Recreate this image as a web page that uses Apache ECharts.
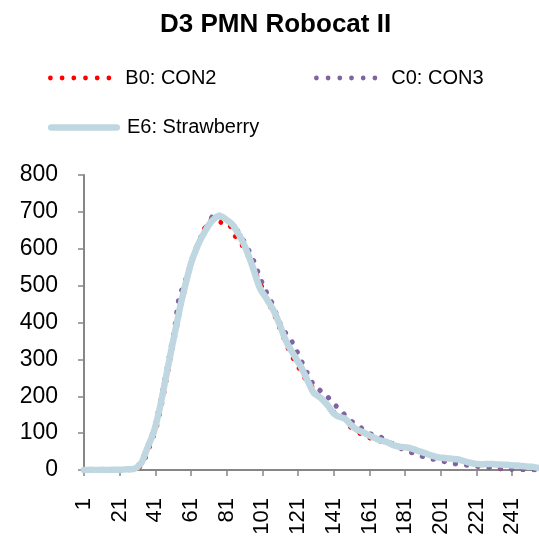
<!DOCTYPE html>
<html>
<head>
<meta charset="utf-8">
<script src="https://cdn.jsdelivr.net/npm/echarts@6/dist/echarts.min.js"></script>
<style>
html,body{margin:0;padding:0;background:#fff;}
#chart{width:539px;height:540px;}
</style>
</head>
<body>
<div id="chart"></div>
<script>
var titleText = 'D3 PMN Robocat II';
var seriesNames = ['B0: CON2', 'C0: CON3', 'E6: Strawberry'];
var categoryCount = 256;
var categories = Array.from({length: categoryCount}, function (_, i) { return String(i + 1); });
var yTicks = [0, 100, 200, 300, 400, 500, 600, 700, 800];

var b0Con2 = [
0,0,0,0,0,0,0,0,0,0,
0,0,0,0,0,0,0,0,0,0,
0,0,0,0,0,0,1,1,1,2,
3,6,11,18,28,40,53,66,79,92,
106,123,143,165,189,214,240,266,291,316,
340,364,389,413,437,459,480,500,520,538,
556,571,585,598,610,621,634,648,662,672,
676,678,680,682,683,680,675,670,669,670,
671,668,661,650,638,632,627,621,614,606,
598,590,580,569,557,545,534,526,518,505,
492,480,468,456,446,438,428,417,405,393,
381,369,357,345,334,323,313,304,296,288,
280,272,264,255,247,240,234,229,225,221,
214,206,198,191,186,182,177,171,166,161,
157,154,152,149,146,141,135,129,123,118,
113,110,107,104,101,98,95,93,91,89,
87,86,84,82,81,79,78,77,76,75,
74,73,72,72,72,71,68,63,58,54,
52,50,49,48,47,46,45,43,41,40,
38,37,36,35,33,32,31,29,28,27,
26,25,25,24,23,23,22,21,20,19,
19,18,18,17,16,15,14,13,12,11,
10,9,9,8,8,7,7,6,6,5,
5,4,4,4,3,3,3,3,2,2,
2,2,2,2,2,1,1,1,1,1,
1,1,1,1,1,1
];

var c0Con3 = [
0,0,0,0,0,0,0,0,0,0,
0,0,0,0,0,0,0,0,0,0,
0,0,0,1,1,1,1,2,3,6,
9,14,21,31,43,56,68,80,93,107,
124,144,166,189,213,238,263,288,313,338,
360,390,428,460,477,491,505,517,529,546,
565,579,592,604,616,627,637,646,655,663,
671,680,688,694,697,693,688,684,681,678,
676,674,671,668,662,656,649,641,633,625,
618,610,600,588,578,568,558,543,530,518,
505,494,484,475,466,456,447,434,420,407,
396,386,378,371,365,362,352,344,337,326,
314,305,294,283,274,264,253,244,236,230,
227,221,217,213,210,207,202,196,190,185,
180,175,170,165,161,156,150,144,139,135,
131,128,126,124,121,116,111,107,104,101,
99,97,96,95,94,93,90,87,84,81,
79,76,73,70,67,64,62,60,58,56,
55,53,51,49,47,45,43,41,40,38,
36,35,33,32,31,30,29,28,27,26,
25,24,23,22,21,20,19,18,17,16,
16,15,15,14,14,13,13,12,12,11,
11,10,10,9,9,8,8,7,7,6,
6,5,5,5,4,4,4,3,3,3,
3,2,2,2,2,2,1,1,1,1,
1,1,1,1,1,1
];

var e6Strawberry = [
0,0,0,0,1,0,0,1,0,0,
1,0,0,1,0,1,1,0,1,1,
1,1,1,1,2,2,2,3,3,5,
8,12,18,27,40,53,65,77,89,101,
118,137,158,180,204,229,253,278,302,327,
350,374,398,421,446,466,486,506,525,543,
561,575,588,600,612,622,631,640,649,657,
665,671,677,682,686,689,690,688,685,682,
678,675,671,667,661,653,644,637,628,618,
608,597,584,571,558,544,529,514,500,489,
481,474,467,459,451,443,435,425,414,402,
390,377,364,352,342,333,325,317,309,301,
293,285,276,266,256,245,235,225,215,208,
204,201,198,194,189,184,179,173,166,159,
153,149,146,144,143,142,140,137,131,125,
120,116,112,109,107,105,103,101,99,96,
93,91,89,87,85,82,80,79,78,77,
75,73,70,68,66,65,64,63,62,62,
61,61,60,59,58,56,54,52,51,49,
47,46,44,42,40,39,37,36,35,34,
33,33,32,32,31,31,30,30,29,29,
28,27,25,24,23,21,20,19,18,17,
16,16,15,15,15,16,16,16,16,16,
16,15,15,15,14,14,14,14,13,13,
12,12,12,12,11,11,10,10,10,9,
9,9,8,7,6,5
];

var colors = ['#FF0000', '#8064A2', '#BED7E0'];
var font = 'Liberation Sans, Arial, Helvetica, sans-serif';
var axisGray = '#868686';

function dotsPath(n, r, step) {
  var p = 'path://';
  for (var k = 0; k < n; k++) {
    var cx = r + k * step;
    p += 'M' + (cx - r) + ',' + r + ' a' + r + ',' + r + ' 0 1,0 ' + (2 * r) + ',0 a' + r + ',' + r + ' 0 1,0 ' + (-2 * r) + ',0 ';
  }
  return p;
}
var dotIcon = dotsPath(6, 2.4, 11.7);
var capsuleIcon = 'path://M3.2,0 L68.8,0 A3.2,3.2 0 0 1 68.8,6.4 L3.2,6.4 A3.2,3.2 0 0 1 3.2,0 Z';

var chart = echarts.init(document.getElementById('chart'), null, {renderer: 'canvas'});
var legendText = {fontFamily: font, fontSize: 20, color: '#000'};
chart.setOption({
  animation: false,
  backgroundColor: '#ffffff',
  color: colors,
  title: {
    text: titleText,
    left: 160,
    top: 12,
    padding: 0,
    textStyle: {fontFamily: font, fontSize: 26, fontWeight: 'bold', color: '#000'}
  },
  legend: [
    {data: [seriesNames[0]], left: 48, top: 68, padding: 0, icon: dotIcon, itemWidth: 63.3, itemHeight: 4.8,
     textStyle: Object.assign({padding: [0, 0, 0, 9]}, legendText)},
    {data: [seriesNames[1]], left: 314, top: 68, padding: 0, icon: dotIcon, itemWidth: 63.3, itemHeight: 4.8,
     textStyle: Object.assign({padding: [0, 0, 0, 9]}, legendText)},
    {data: [seriesNames[2]], left: 48, top: 117.5, padding: 0, icon: capsuleIcon, itemWidth: 72, itemHeight: 6.4,
     textStyle: Object.assign({padding: [0, 0, 0, 2]}, legendText)}
  ],
  grid: {left: 84, right: 0, top: 175, bottom: 70, containLabel: false},
  xAxis: {
    type: 'category',
    data: categories,
    boundaryGap: false,
    axisLine: {show: true, lineStyle: {color: axisGray, width: 2}},
    axisTick: {show: true, interval: 19, length: 6, lineStyle: {color: axisGray, width: 1.5}},
    axisLabel: {interval: 19, rotate: 90, margin: 28, fontFamily: font, fontSize: 22, color: '#000'},
    splitLine: {show: false}
  },
  yAxis: {
    type: 'value',
    min: yTicks[0],
    max: yTicks[yTicks.length - 1],
    interval: 100,
    axisLine: {show: true, lineStyle: {color: axisGray, width: 2}},
    axisTick: {show: true, length: 6, lineStyle: {color: axisGray, width: 1.5}},
    axisLabel: {margin: 26, fontFamily: font, fontSize: 23, color: '#000'},
    splitLine: {show: false}
  },
  series: [
    {name: seriesNames[0], type: 'line', data: b0Con2, symbol: 'none', showSymbol: false, z: 2,
     lineStyle: {color: colors[0], width: 4.8, type: [0.1, 11.2], cap: 'round', join: 'round'},
     itemStyle: {color: colors[0]}},
    {name: seriesNames[1], type: 'line', data: c0Con3, symbol: 'none', showSymbol: false, z: 3,
     lineStyle: {color: colors[1], width: 5.2, type: [0.1, 11.2], cap: 'round', join: 'round'},
     itemStyle: {color: colors[1]}},
    {name: seriesNames[2], type: 'line', data: e6Strawberry, symbol: 'none', showSymbol: false, z: 4,
     lineStyle: {color: colors[2], width: 6.5, cap: 'round', join: 'round'},
     itemStyle: {color: colors[2]}}
  ]
});
</script>
</body>
</html>
